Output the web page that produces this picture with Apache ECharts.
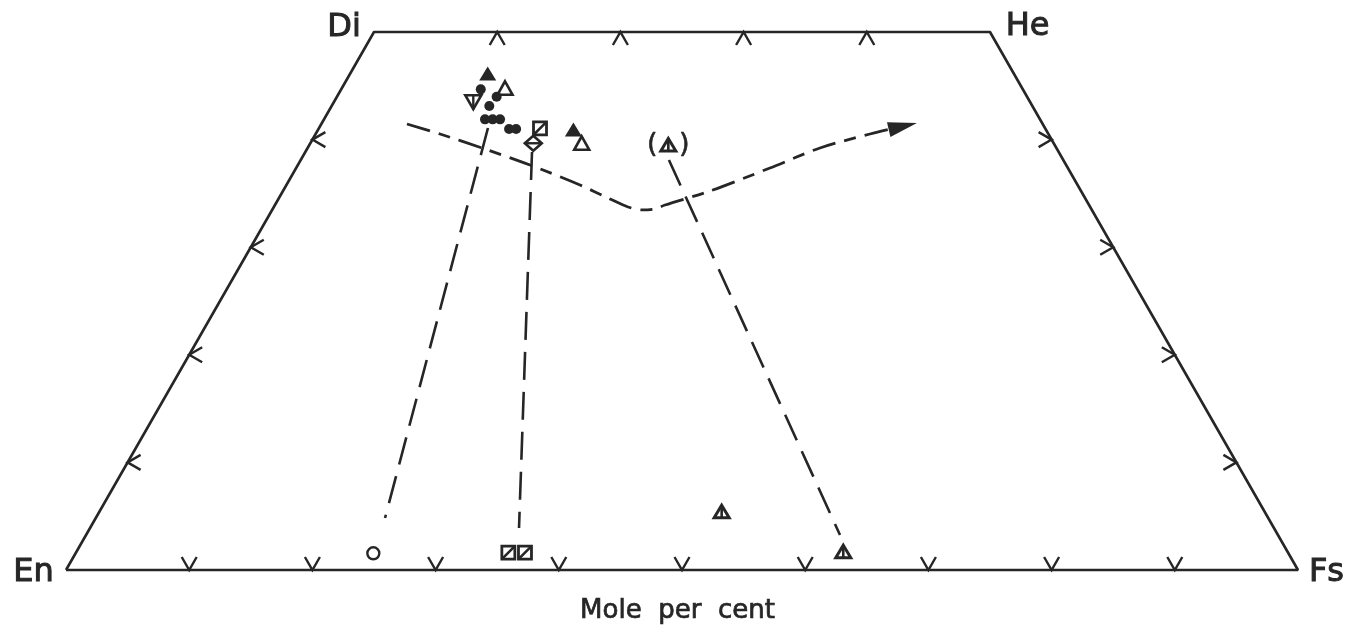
<!DOCTYPE html>
<html><head><meta charset="utf-8">
<script src="https://cdn.jsdelivr.net/npm/echarts@6/dist/echarts.min.js"></script>
<style>html,body{margin:0;padding:0;background:#fff;}#c{width:1348px;height:627px;}</style>
</head><body><div id="c"></div>
<script>
// Pyroxene quadrilateral, compositions as [Wo, Fs] (mole per cent; En = 100 - Wo - Fs)
const cornerNames = ['En', 'Di', 'He', 'Fs'];
const cornerWo = [0, 50, 50, 0];
const cornerFs = [0, 0, 50, 100];
const axisTitle = 'Mole  per  cent';

const bottomTicksFs = [10, 20, 30, 40, 50, 60, 70, 80, 90];
const topTicksFs = [10, 20, 30, 40];
const leftTicksWo = [10, 20, 30, 40];
const rightTicksWo = [10, 20, 30, 40];

const filledCircles = [[44.67, 11.33], [43.99, 12.96], [43.12, 12.80], [41.88, 13.07], [41.88, 13.69], [41.88, 14.29], [40.99, 15.47], [40.99, 16.04]];
const filledTriangles = [[46.10, 11.18], [40.89, 20.74]];
const openTriangles = [[44.77, 13.25], [39.66, 22.03]];
const invTrianglesBar = [[43.52, 11.30]];
const squaresDiag = [[41.05, 17.95], [1.61, 35.10], [1.61, 36.45]];
const diamondsBar = [[39.66, 18.10]];
const hatchTriangles = [[5.42, 50.51], [1.70, 62.24]];
const hatchTrianglesBracketed = [[39.50, 29.14]];
const openCircles = [[1.55, 24.17]];

const tieLines = [
  [[41.08, 13.71], [4.83, 23.48]],
  [[38.85, 18.40], [3.90, 34.82]],
  [[38.10, 29.89], [3.25, 61.20]]
];

const trendWo = [41.45, 40.52, 39.22, 37.64, 35.78, 34.48, 33.74, 33.46, 33.55, 33.92, 35.22, 37.36, 39.22, 40.52, 41.54];
const trendFs = [6.95, 10.10, 14.16, 18.84, 23.83, 26.92, 28.75, 30.02, 31.03, 31.66, 34.66, 38.46, 41.59, 45.00, 48.30];

const C = '#262626';
function toXY(wo, fs) { return [fs + wo / 2, wo]; }

const chart = echarts.init(document.getElementById('c'), null, { renderer: 'canvas' });

function markerSeries(name, data, draw) {
  return {
    type: 'custom', name, coordinateSystem: 'cartesian2d', z: 10,
    data: data.map(d => toXY(d[0], d[1])),
    renderItem: (params, api) => {
      const p = api.coord([api.value(0), api.value(1)]);
      return { type: 'group', children: draw(p[0], p[1]) };
    }
  };
}
const st = (w) => ({ stroke: C, lineWidth: w, fill: 'none' });

// tick items: [x, y, edge]  edge: 0 bottom, 1 top, 2 left, 3 right
const tickItems = [];
bottomTicksFs.forEach(f => tickItems.push([...toXY(0, f), 0]));
topTicksFs.forEach(f => tickItems.push([...toXY(50, f), 1]));
leftTicksWo.forEach(w => tickItems.push([...toXY(w, 0), 2]));
rightTicksWo.forEach(w => tickItems.push([...toXY(w, 100 - w), 3]));
const tickArmAngles = [[60, 120], [-60, -120], [30, -30], [150, 210]];

const outline = cornerWo.map((w, i) => toXY(w, cornerFs[i]));
outline.push(outline[0]);

const trend = trendWo.map((w, i) => toXY(w, trendFs[i]));
const n = trend.length;
const arrowItem = [trend[n - 2][0], trend[n - 2][1], trend[n - 1][0], trend[n - 1][1]];

const series = [
  { type: 'line', data: outline, symbol: 'none', clip: false, silent: true,
    lineStyle: { color: C, width: 2.6 }, z: 2 },
  {
    type: 'custom', coordinateSystem: 'cartesian2d', data: tickItems, z: 3,
    renderItem: (params, api) => {
      const p = api.coord([api.value(0), api.value(1)]);
      const ang = tickArmAngles[api.value(2)];
      const arm = a => [p[0] + 15 * Math.cos(a * Math.PI / 180), p[1] - 15 * Math.sin(a * Math.PI / 180)];
      return { type: 'polyline', shape: { points: [arm(ang[0]), p, arm(ang[1])] }, style: st(2.4) };
    }
  }
];

tieLines.forEach(t => series.push({
  type: 'line', data: t.map(d => toXY(d[0], d[1])), symbol: 'none', silent: true, z: 4,
  lineStyle: { color: C, width: 2.6, type: [28, 12] }
}));

series.push({
  type: 'line', data: trend, symbol: 'none', smooth: 0.3, silent: true, z: 4,
  lineStyle: { color: C, width: 2.8, type: [24, 9, 12, 9] }
});
series.push({
  type: 'custom', coordinateSystem: 'cartesian2d', data: [arrowItem], z: 5,
  renderItem: (params, api) => {
    const a = api.coord([api.value(0), api.value(1)]);
    const b = api.coord([api.value(2), api.value(3)]);
    const vx = b[0] - a[0], vy = b[1] - a[1], L = Math.hypot(vx, vy);
    const ux = vx / L, uy = vy / L;
    const bx = b[0] - ux * 29, by = b[1] - uy * 29;
    return { type: 'polygon', shape: { points: [b, [bx - uy * 7.5, by + ux * 7.5], [bx + uy * 7.5, by - ux * 7.5]] }, style: { fill: C } };
  }
});

series.push(markerSeries('filledCircle', filledCircles, (x, y) => [
  { type: 'circle', shape: { cx: x, cy: y, r: 5 }, style: { fill: C } }]));
series.push(markerSeries('filledTriangle', filledTriangles, (x, y) => [
  { type: 'polygon', shape: { points: [[x, y - 7.5], [x + 8.5, y + 6.5], [x - 8.5, y + 6.5]] }, style: { fill: C } }]));
series.push(markerSeries('openTriangle', openTriangles, (x, y) => [
  { type: 'polygon', shape: { points: [[x, y - 7], [x + 7.5, y + 6.5], [x - 7.5, y + 6.5]] }, style: st(2.6) }]));
series.push(markerSeries('invTriangleBar', invTrianglesBar, (x, y) => [
  { type: 'polygon', shape: { points: [[x - 8, y - 6.5], [x + 8, y - 6.5], [x, y + 7.5]] }, style: st(2.6) },
  { type: 'line', shape: { x1: x, y1: y - 6.5, x2: x, y2: y + 7.5 }, style: st(2.4) }]));
series.push(markerSeries('squareDiag', squaresDiag, (x, y) => [
  { type: 'rect', shape: { x: x - 6.5, y: y - 6.5, width: 13, height: 13 }, style: st(2.8) },
  { type: 'line', shape: { x1: x - 6.5, y1: y + 6.5, x2: x + 6.5, y2: y - 6.5 }, style: st(2.6) }]));
series.push(markerSeries('diamondBar', diamondsBar, (x, y) => [
  { type: 'polygon', shape: { points: [[x, y - 7.5], [x + 8.5, y], [x, y + 7.5], [x - 8.5, y]] }, style: st(2.6) },
  { type: 'line', shape: { x1: x - 8.5, y1: y, x2: x + 8.5, y2: y }, style: st(2.4) }]));
const hatchTri = (x, y) => [
  { type: 'polygon', shape: { points: [[x, y - 6.5], [x + 7.5, y + 6], [x - 7.5, y + 6]] }, style: st(3) },
  { type: 'line', shape: { x1: x, y1: y - 6.5, x2: x, y2: y + 6 }, style: st(2.6) }];
series.push(markerSeries('hatchTriangle', hatchTriangles, hatchTri));
const parenFont = '27px "DejaVu Sans"';
series.push(markerSeries('hatchTriangleBracketed', hatchTrianglesBracketed, (x, y) => [
  ...hatchTri(x, y),
  { type: 'text', style: { x: x - 16, y: y, text: '(', fill: C, font: parenFont, align: 'center', verticalAlign: 'middle', stroke: C, lineWidth: 0.6 } },
  { type: 'text', style: { x: x + 16, y: y, text: ')', fill: C, font: parenFont, align: 'center', verticalAlign: 'middle', stroke: C, lineWidth: 0.6 } }]));
series.push(markerSeries('openCircle', openCircles, (x, y) => [
  { type: 'circle', shape: { cx: x, cy: y, r: 6 }, style: st(2.4) }]));

const labelFont = '32px "DejaVu Sans"';
const txt = (text, x, y, font, sw) => ({ type: 'text', style: { text, x, y, font: font || labelFont, fill: C, stroke: C, lineWidth: sw, align: 'center', verticalAlign: 'middle' } });

chart.setOption({
  animation: false,
  backgroundColor: '#ffffff',
  grid: { left: 66, right: 50, top: 32, bottom: 57 },
  xAxis: { type: 'value', min: 0, max: 100, show: false },
  yAxis: { type: 'value', min: 0, max: 50, show: false },
  series,
  graphic: [
    txt(cornerNames[0], 33.5, 573, null, 1),
    txt(cornerNames[1], 344, 28, null, 1),
    txt(cornerNames[2], 1027.5, 27, null, 1),
    txt(cornerNames[3], 1326.5, 573, null, 1),
    txt(axisTitle, 677.5, 611, '26px "DejaVu Sans"', 0.7)
  ]
});
</script></body></html>
